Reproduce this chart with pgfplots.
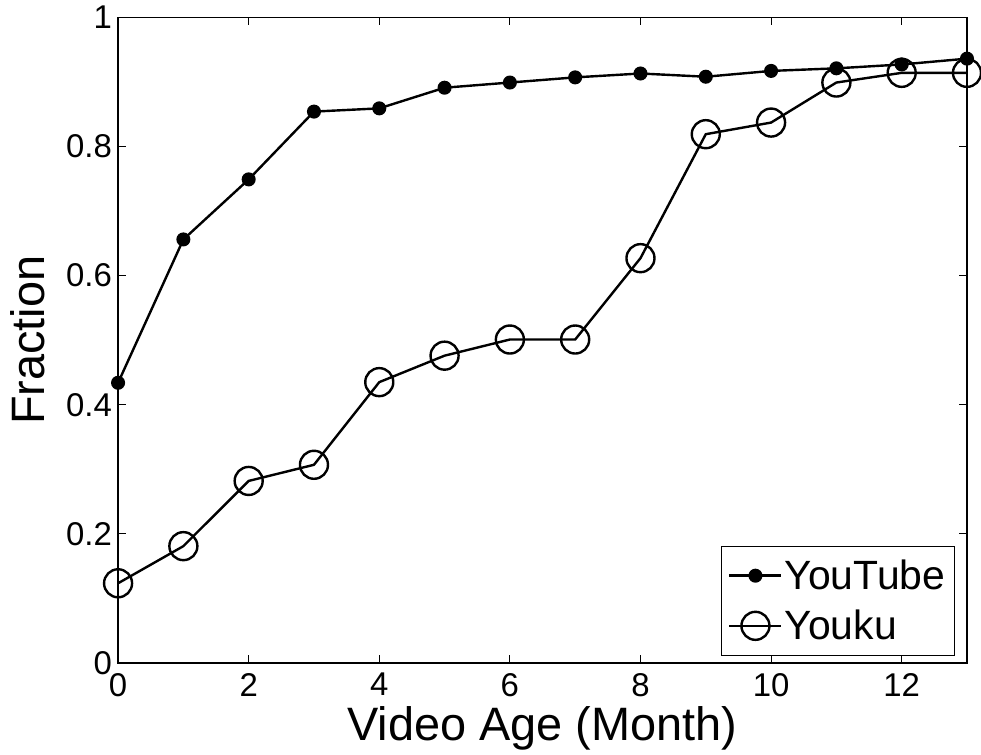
\documentclass[border=0pt]{standalone}
\usepackage{pgfplots}
\pgfplotsset{compat=1.18}
\usepackage{fontspec}
\setmainfont{Liberation Sans}
\begin{document}
\begin{tikzpicture}
\begin{axis}[
  scale only axis, width=848bp, height=645bp,
  xmin=0, xmax=13, ymin=0, ymax=1,
  xtick={0,2,4,6,8,10,12}, ytick={0,0.2,0.4,0.6,0.8,1},
  yticklabels={0,0.2,0.4,0.6,0.8,1},
  tick align=inside, major tick length=8bp,
  tick style={black, line width=0.8bp},
  axis line style={line width=1.4bp},
  /pgf/number format/assume math mode=true,
  tick label style={font=\fontsize{33}{38}\selectfont},
  xticklabel style={inner xsep=2bp, inner ysep=10bp},
  yticklabel style={inner xsep=6bp, inner ysep=6bp},
  xlabel={Video Age (Month)}, ylabel={Fraction},
  xlabel style={font=\fontsize{47}{54}\selectfont, at={(axis description cs:0.5,-0.1194)}, anchor=base, inner sep=5bp},
  ylabel style={font=\fontsize{47}{54}\selectfont, at={(axis description cs:-0.0861,0.5)}, anchor=base, inner sep=11bp},
  legend style={at={(1,0)}, anchor=south east, xshift=-12bp, yshift=7bp,
    font=\fontsize{41}{46}\selectfont, draw=black, line width=1.2bp,
    inner xsep=7bp, inner ysep=12bp, row sep=15bp,
    nodes={inner sep=2bp}, cells={anchor=west}},
  legend cell align=left,
  legend image code/.code={
    \draw[mark repeat=2, mark phase=2, #1] plot coordinates {(0bp,0bp) (26bp,0bp) (52bp,0bp)};},
  clip=false,
]
\addplot[black, line width=2.4bp, mark=*, mark size=5.8bp, mark options={solid, fill=black}] coordinates {
(0,0.434) (1,0.656) (2,0.749) (3,0.854) (4,0.859) (5,0.891) (6,0.899)
(7,0.907) (8,0.913) (9,0.908) (10,0.917) (11,0.921) (12,0.927) (13,0.936)};
\addlegendentry{YouTube}
\addplot[black, line width=2.4bp, mark=o, mark size=14bp, mark options={solid, line width=2.4bp}] coordinates {
(0,0.1235) (1,0.181) (2,0.282) (3,0.307) (4,0.435) (5,0.476) (6,0.501)
(7,0.501) (8,0.627) (9,0.819) (10,0.837) (11,0.899) (12,0.914) (13,0.914)};
\addlegendentry{Youku}
\end{axis}
\end{tikzpicture}
\end{document}
